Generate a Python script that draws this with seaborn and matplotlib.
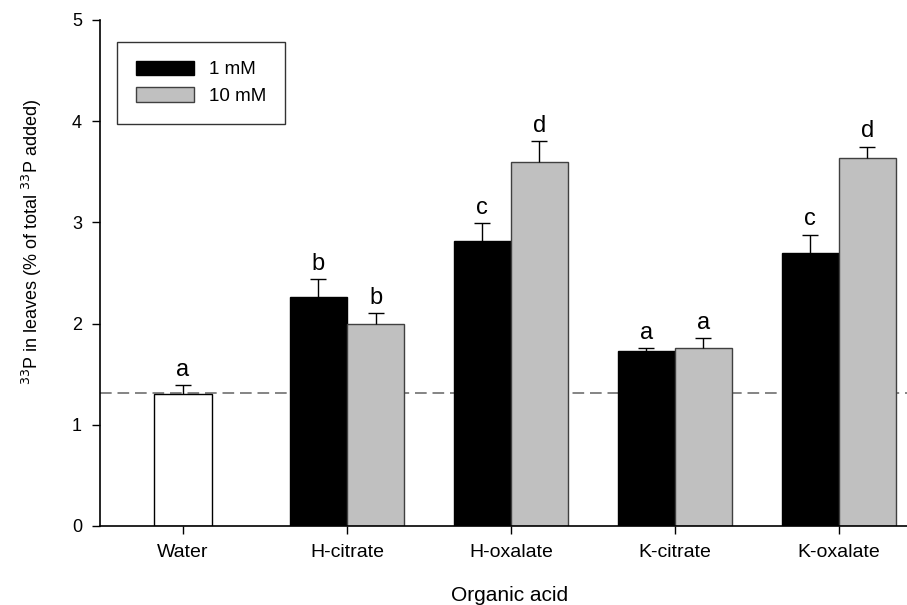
import numpy as np
import pandas as pd
import matplotlib
matplotlib.use('Agg')
import matplotlib.pyplot as plt
from matplotlib.patches import Patch
import seaborn as sns

# values
acids = ["Water", "H-citrate", "H-oxalate", "K-citrate", "K-oxalate"]
water_mean = 1.30
water_se = 0.09
mean_1mM = [2.26, 2.82, 1.73, 2.70]
se_1mM = [0.18, 0.17, 0.03, 0.18]
mean_10mM = [2.00, 3.60, 1.76, 3.64]
se_10mM = [0.10, 0.20, 0.10, 0.11]
letter_water = "a"
letters_1mM = ["b", "c", "a", "c"]
letters_10mM = ["b", "d", "a", "d"]
baseline = 1.31

sns.set_style("ticks")
plt.rcParams['font.family'] = ['Liberation Sans', 'DejaVu Sans']
plt.rcParams['text.color'] = 'black'
plt.rcParams['axes.labelcolor'] = 'black'
plt.rcParams['xtick.color'] = 'black'
plt.rcParams['ytick.color'] = 'black'

half = 0.174
groups = np.arange(1, len(acids))
pos = np.concatenate([[0.0], groups - half, groups + half])
vals = np.concatenate([[water_mean], mean_1mM, mean_10mM])
errs = np.concatenate([[water_se], se_1mM, se_10mM])
conc = ["Water"] + ["1 mM"] * len(mean_1mM) + ["10 mM"] * len(mean_10mM)
letters = [letter_water] + letters_1mM + letters_10mM
df = pd.DataFrame({"pos": pos, "value": vals, "conc": conc})

fig = plt.figure(figsize=(9.07, 6.05), dpi=100)
ax = fig.add_axes([100 / 907, 1 - 526 / 605, 807 / 907, 506 / 605])

palette = {"Water": "white", "1 mM": "black", "10 mM": "#c0c0c0"}
sns.barplot(data=df, x="pos", y="value", hue="conc", hue_order=["Water", "1 mM", "10 mM"],
            palette=palette, native_scale=True, dodge=False, width=1.0,
            errorbar=None, legend=False, ax=ax, zorder=2)
for p in ax.patches:
    fc = p.get_facecolor()
    p.set_edgecolor('#404040' if 0.5 < fc[0] < 0.9 else 'black')
    p.set_linewidth(1.0)

# upper error bars only
eb = ax.errorbar(pos, vals, yerr=[np.zeros_like(errs), errs], fmt='none', ecolor='black',
                 elinewidth=1, capsize=6, capthick=1, zorder=3)
for cap in eb[1]:
    if np.allclose(cap.get_ydata(), vals):
        cap.set_visible(False)

for x, v, e, t in zip(pos, vals, errs, letters):
    ax.annotate(t, (x, v + e), xytext=(0, 3), textcoords='offset points',
                ha='center', va='bottom', fontsize=17)

ax.axhline(baseline, color='#707070', lw=1.2, ls=(0, (7, 3.5)), zorder=1)

ax.set_xlim(-0.506, 4.415)
ax.set_ylim(0, 5)
ax.set_xticks(range(len(acids)))
ax.set_xticklabels(acids, fontsize=14)
ax.set_yticks(range(6))
ax.set_yticklabels([str(i) for i in range(6)], fontsize=13)
ax.tick_params(axis='both', direction='out', length=6, width=1, color='black', pad=7)
for s in ['top', 'right']:
    ax.spines[s].set_visible(False)
for s in ['left', 'bottom']:
    ax.spines[s].set_color('black')
    ax.spines[s].set_linewidth(1.2)

ax.set_xlabel("Organic acid", fontsize=15)
ax.xaxis.set_label_coords(0.508, -0.118)
ax.set_ylabel("$^{33}$P in leaves (% of total $^{33}$P added)", fontsize=13)
ax.yaxis.set_label_coords(-0.069, 0.561)

handles = [Patch(facecolor='black', edgecolor='black', label='1 mM'),
           Patch(facecolor='#c0c0c0', edgecolor='#404040', label='10 mM')]
leg = ax.legend(handles=handles, loc='upper left', bbox_to_anchor=(0.021, 0.957),
                frameon=True, fancybox=False, shadow=False, fontsize=13.5,
                borderpad=1.0, handlelength=3.1, handleheight=0.85,
                handletextpad=0.8, labelspacing=0.45, borderaxespad=0)
leg.get_frame().set_edgecolor('black')
leg.get_frame().set_linewidth(1.0)

fig.savefig("out.png", dpi=100)
